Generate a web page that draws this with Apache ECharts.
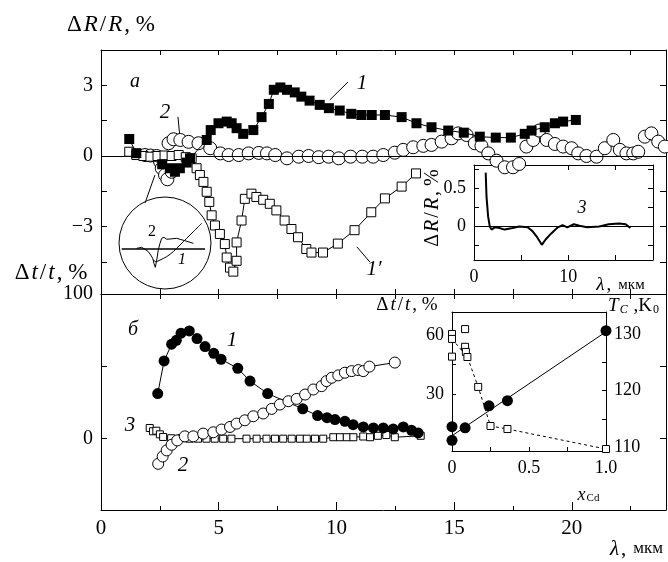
<!DOCTYPE html>
<html>
<head>
<meta charset="utf-8">
<script src="https://cdn.jsdelivr.net/npm/echarts@6/dist/echarts.min.js"></script>
<style>
  html, body { margin: 0; padding: 0; background: #fff; }
  #chart { width: 668px; height: 562px; }
</style>
</head>
<body>
<div id="chart"></div>
<script>
// ---- панель а: ΔR/R, % ----
const sq1 = [[1.2,0.72],[1.5,0.12],[2.6,-0.35],[2.93,-0.52],[3.14,-0.67],[3.35,-0.52],[3.64,-0.28],[3.78,-0.1],[4.49,0.68],[4.66,1.1],[4.99,1.39],[5.34,1.46],[5.55,1.39],[5.76,1.18],[6.04,0.94],[6.47,1.1],[6.82,1.65],[7.13,2.21],[7.34,2.81],[7.62,2.91],[7.9,2.81],[8.23,2.7],[8.51,2.52],[8.86,2.35],[9.29,2.17],[9.68,2.03],[10.14,1.93],[10.63,1.79],[11.06,1.74],[11.5,1.74],[12.06,1.74],[12.77,1.65],[13.4,1.39],[14.04,1.22],[14.75,1.08],[15.41,0.99],[16.09,0.82],[16.77,0.78],[17.41,0.78],[18.0,0.94],[18.29,1.08],[18.85,1.22],[19.28,1.39],[19.63,1.46],[20.17,1.53]]
const circ2 = [[1.87,0.04],[2.1,0.02],[2.36,0.0],[2.51,-0.24],[2.58,-0.52],[2.72,-0.81],[2.82,-0.99],[3.0,-0.67],[2.87,0.54],[3.08,0.71],[3.37,0.68],[3.72,0.6],[4.14,0.54],[4.64,0.33],[5.07,0.11],[5.42,0.04],[5.85,0.04],[6.27,0.11],[6.7,0.13],[7.05,0.11],[7.4,0.04],[7.9,-0.1],[8.4,-0.03],[8.82,0],[9.25,-0.05],[9.67,-0.03],[10.1,-0.1],[10.6,-0.03],[11.1,-0.03],[11.56,-0.03],[11.99,0.04],[12.48,0.14],[12.84,0.26],[13.26,0.37],[13.69,0.43],[14.04,0.47],[14.47,0.61],[14.89,0.75],[15.17,0.96],[15.53,0.89],[15.88,0.54],[16.16,0.43],[16.45,0.11],[16.8,-0.2],[17.15,-0.48],[17.5,-0.48],[17.76,-0.34],[18.07,0.4],[18.36,0.68],[18.61,1.08],[18.93,0.68],[19.28,0.51],[19.63,0.4],[19.99,0.33],[20.27,0.11],[20.62,0],[21.05,-0.03],[21.4,0.33],[21.76,0.68],[22.04,0.26],[22.32,0.11],[22.61,0.11],[22.82,0.18],[23.1,0.82],[23.38,0.96],[23.67,0.61],[23.95,0.4]]
const sq1p = [[1.2,0.18],[1.5,0.04],[1.8,0.0],[2.1,-0.03],[2.4,0.0],[2.7,0.02],[3.0,0.0],[3.3,0.04],[3.6,-0.05],[3.85,-0.1],[4.06,-0.52],[4.2,-0.81],[4.35,-1.1],[4.49,-1.52],[4.6,-1.95],[4.7,-2.52],[4.84,-2.95],[5.05,-3.31],[5.26,-3.74],[5.34,-4.31],[5.48,-4.74],[5.62,-4.91],[5.76,-4.45],[5.76,-3.67],[5.97,-2.74],[6.11,-1.82],[6.39,-1.6],[6.6,-1.74],[6.89,-1.86],[7.17,-2.03],[7.45,-2.31],[7.8,-2.74],[8.09,-3.1],[8.37,-3.45],[8.72,-3.95],[8.94,-4.1],[9.43,-4.1],[10.06,-3.72],[10.77,-3.15],[11.48,-2.39],[12.06,-1.8],[12.77,-1.3],[13.38,-0.74]]
// выноски к подписям кривых (в координатах панели а)
const leaders = [
  [[10.49,3.14],[9.72,2.38]],
  [[3.27,1.66],[3.35,0.81]],
  [[10.87,-3.86],[11.42,-4.5]],
  [[1.87,-2.0],[2.29,-0.81]],
]
const aTicks = [-4.5,-3,-1.5,0,1.5,3]
const aLabels = [-3,0,3]

// ---- вставка: кривая 3 ----
const curve3 = [[1.24,0.7],[1.33,0.38],[1.5,0.12],[1.68,-0.01],[1.86,-0.05],[2.2,-0.02],[2.7,-0.03],[3.25,-0.05],[4.1,-0.03],[4.8,-0.01],[5.7,-0.02],[6.2,-0.07],[6.7,-0.15],[7.2,-0.25],[7.6,-0.18],[8.2,-0.1],[8.9,-0.02],[9.4,0.01],[9.9,-0.02],[10.6,0.02],[11.2,0],[12.0,-0.02],[13.3,-0.01],[14.3,0.02],[15.4,0.03],[16.1,0.02],[16.6,-0.03]]

// ---- круглая врезка (условные единицы 0..100) ----
const zoomBase = [[4.9,46.9],[91.7,46.9]]
const zoom1 = [[37.8,35.4],[40.6,33.7],[44.8,35.4],[51.8,38.9],[58.6,44.1],[65.6,51.0],[72.6,58.0],[79.5,64.9],[88.2,73.6]]
const zoom2 = [[20.5,47.6],[25.7,48.6],[29.2,46.6],[32.6,44.1],[35.1,40.6],[37.2,37.2],[38.5,31.9],[39.9,27.8],[41.4,35.4],[43.0,45.8],[44.8,52.8],[46.5,58.0],[48.9,59.1],[51.8,57.0],[55.2,57.3],[62.2,58.0],[70.8,55.5],[79.5,52.8]]

// ---- панель б: Δt/t, % ----
const dot1 = [[2.41,31.2],[2.68,53.7],[3.0,65.3],[3.2,68],[3.4,72.9],[3.75,74.5],[4.08,69.2],[4.42,63.7],[4.79,59],[5.1,54.9],[5.81,48.6],[6.33,39.8],[7.08,31.2],[8.57,20.6],[9.2,16.0],[9.6,14.5],[9.94,13.2],[10.36,12.0],[10.71,9.7],[11.14,8.1],[11.57,7.4],[11.99,7.4],[12.41,6.7],[12.84,8.1],[13.19,5.8],[13.47,4.0]]
const ring2 = [[2.43,-17.4],[2.62,-12.3],[2.79,-8.1],[3.0,-4.2],[3.24,-1.2],[3.56,1.6],[3.92,1.6],[4.34,3.5],[4.77,4.4],[5.12,6.3],[5.48,8.1],[5.76,10.4],[6.11,12.7],[6.47,15.5],[6.89,17.4],[7.25,20.6],[7.6,23.6],[7.96,25.9],[8.31,27.5],[8.67,30.5],[9.02,34],[9.37,36.3],[9.58,39.8],[9.8,42.1],[10.08,43.75],[10.36,45.6],[10.65,46.7],[10.93,47.4],[11.14,46.7],[11.4,49.8],[12.48,52.6]]
const box3 = [[2.07,7.4],[2.21,5.1],[2.35,5.5],[2.5,3.0],[2.64,1.2],[2.98,0.3],[3.41,0.3],[3.76,0],[4.12,0],[4.48,0],[4.83,0],[5.19,0],[5.54,0],[6.18,0],[6.61,0],[7.03,0],[7.39,0],[7.74,0],[8.1,0],[8.45,0],[8.74,0],[9.09,0],[9.44,0],[9.87,1],[10.15,1],[10.44,1],[10.72,1],[11.14,1.5],[11.43,1],[11.76,2],[12.12,2.5],[12.48,1],[13.58,2]]
const bTicks = [0,50]
const bLabels = [0,100]
const lamTicks = [2.5,5,7.5,10,12.5,15,17.5,20,22.5]
const lamMajor = [5,10,15,20]
const lamLabels = [0,5,10,15,20]

// ---- вставка б: зависимость от x_Cd ----
const xcdSquares = [[0,60.5],[0,58],[0,49],[0.085,63],[0.085,54],[0.09,51.4],[0.1,48.8],[0.17,33.6],[0.25,13.7],[0.36,12.2],[1.0,2]]
const xcdTrend = [[0,58],[0.1,48.8],[0.17,33.6],[0.25,13.7],[0.36,12.2],[1.0,2]]
const tcDots = [[0,113.6],[0,111.2],[0.085,113.4],[0.24,117.3],[0.36,118.2],[1.0,130.6]]
const tcLine = [[0,112],[1.0,130.4]]

const FF = 'Liberation Serif, DejaVu Serif, serif'
const black = '#000'

function ax(extra) {
  return Object.assign({
    type: 'value',
    axisLine: { show: true, onZero: false, lineStyle: { color: black, width: 1 } },
    splitLine: { show: false },
    axisTick: { show: false },
    axisLabel: { show: false },
  }, extra)
}
function ticks(vals, len) {
  return { show: true, inside: true, length: len || 6, customValues: vals, lineStyle: { color: black, width: 1 } }
}
function labels(vals, size, fmt) {
  return {
    show: true, customValues: vals, color: black, fontFamily: FF, fontSize: size, margin: 8,
    formatter: fmt || (v => (v < 0 ? '−' : '') + Math.abs(v)),
  }
}

const lineS = (data, x, y, extra) => Object.assign({
  type: 'line', xAxisIndex: x, yAxisIndex: y, data, symbol: 'none', silent: true,
  lineStyle: { color: black, width: 1 }, z: 3,
}, extra)

const series = [
  // панель а
  {
    type: 'scatter', xAxisIndex: 0, yAxisIndex: 0, data: circ2, symbol: 'circle', symbolSize: 13, silent: true,
    itemStyle: { color: '#fff', borderColor: black, borderWidth: 1, opacity: 1 }, z: 4,
    markLine: { silent: true, symbol: 'none', label: { show: false }, lineStyle: { color: black, width: 1, type: 'solid' }, data: [{ yAxis: 0 }] },
  },
  lineS(sq1p, 0, 0, { symbol: 'rect', symbolSize: 9, itemStyle: { color: '#fff', borderColor: black, borderWidth: 1 }, z: 5 }),
  lineS(sq1, 0, 0, { symbol: 'rect', symbolSize: 10, itemStyle: { color: black }, z: 5 }),
  ...leaders.map(d => lineS(d, 0, 0)),
  // вставка а
  lineS(curve3, 5, 4, { lineStyle: { color: black, width: 2 }, markLine: { silent: true, symbol: 'none', label: { show: false }, lineStyle: { color: black, width: 1, type: 'solid' }, data: [{ yAxis: 0 }] } }),
  // круглая врезка
  lineS(zoomBase, 9, 8, { lineStyle: { color: black, width: 1.5 } }),
  lineS(zoom1, 9, 8, { smooth: 0.3 }),
  lineS(zoom2, 9, 8),
  // панель б
  lineS(box3, 3, 2, { symbol: 'rect', symbolSize: 7, itemStyle: { color: '#fff', borderColor: black, borderWidth: 1 } }),
  lineS(ring2, 3, 2, { symbol: 'circle', symbolSize: 11, itemStyle: { color: '#fff', borderColor: black, borderWidth: 1 } }),
  lineS(dot1, 3, 2, { symbol: 'circle', symbolSize: 11, itemStyle: { color: black } }),
  // вставка б
  lineS(xcdTrend, 7, 6, { lineStyle: { color: black, width: 1, type: [3, 3] } }),
  { type: 'scatter', xAxisIndex: 7, yAxisIndex: 6, data: xcdSquares, symbol: 'rect', symbolSize: 7, silent: true, itemStyle: { color: '#fff', borderColor: black, borderWidth: 1, opacity: 1 }, z: 5 },
  lineS(tcLine, 7, 7),
  { type: 'scatter', xAxisIndex: 7, yAxisIndex: 7, data: tcDots, symbol: 'circle', symbolSize: 11, silent: true, itemStyle: { color: black, opacity: 1 }, z: 5 },
]

const rich = (size) => ({
  n: { fontFamily: FF, fontSize: size, color: black, padding: [0, 1, 0, 1] },
  i: { fontFamily: FF, fontSize: size, fontStyle: 'italic', color: black, padding: [0, 1, 0, 1] },
  s: { fontFamily: FF, fontSize: Math.round(size * 0.62), color: black, verticalAlign: 'bottom', lineHeight: size * 0.9 },
  si: { fontFamily: FF, fontSize: Math.round(size * 0.62), fontStyle: 'italic', color: black, verticalAlign: 'bottom', lineHeight: size * 0.9 },
  m: { fontFamily: FF, fontSize: Math.round(size * 0.8), color: black, padding: [0, 0, 0, 6] },
})
function txt(x, y, text, size, opt) {
  opt = opt || {}
  return {
    type: 'text', x, y, rotation: opt.rot || 0, z: 100, silent: true,
    style: { text, rich: rich(size), align: opt.align || 'center', verticalAlign: 'middle', textAlign: opt.align || 'center', textVerticalAlign: 'middle', fontFamily: FF, fontSize: size },
  }
}

const option = {
  animation: false,
  backgroundColor: '#fff',
  grid: [
    { left: 101, top: 50, width: 565, height: 244 },
    { left: 101, top: 294, width: 565, height: 216 },
    { left: 474, top: 165, width: 179, height: 95 },
    { left: 452, top: 312, width: 154, height: 139 },
    { left: 117, top: 198, width: 96, height: 96 },
  ],
  xAxis: [
    ax({ gridIndex: 0, position: 'bottom', min: 0, max: 24, axisTick: ticks(lamTicks, 5) }),
    ax({ gridIndex: 0, position: 'top', min: 0, max: 24, axisTick: ticks(lamTicks, 5) }),
    ax({ gridIndex: 1, position: 'top', min: 0, max: 24, axisTick: ticks(lamTicks, 5) }),
    ax({ gridIndex: 1, position: 'bottom', min: 0, max: 24, axisTick: ticks(lamMajor, 8), axisLabel: labels(lamLabels, 21) }),
    ax({ gridIndex: 1, position: 'bottom', min: 0, max: 24, axisLine: { show: false, onZero: false }, axisTick: ticks(lamTicks, 4) }),
    ax({ gridIndex: 2, position: 'bottom', min: 0, max: 19, axisTick: ticks([5, 10, 15], 5), axisLabel: labels([0, 10], 18) }),
    ax({ gridIndex: 2, position: 'top', min: 0, max: 19, axisTick: ticks([5, 10, 15], 5) }),
    ax({ gridIndex: 3, position: 'bottom', min: 0, max: 1, axisTick: ticks([0.25, 0.5, 0.75], 4), axisLabel: labels([0, 0.5, 1], 18, v => (v === 1 ? '1.0' : String(v))) }),
    ax({ gridIndex: 3, position: 'top', min: 0, max: 1 }),
    ax({ gridIndex: 4, min: 0, max: 100, show: false }),
  ],
  yAxis: [
    ax({ gridIndex: 0, position: 'left', min: -5.86, max: 4.5, axisTick: ticks(aTicks, 6), axisLabel: labels(aLabels, 20) }),
    ax({ gridIndex: 0, position: 'right', min: -5.86, max: 4.5, axisTick: ticks(aTicks, 6) }),
    ax({ gridIndex: 1, position: 'left', min: -49.3, max: 100, axisTick: ticks(bTicks, 6), axisLabel: labels(bLabels, 20) }),
    ax({ gridIndex: 1, position: 'right', min: -49.3, max: 100, axisTick: ticks(bTicks, 6) }),
    ax({ gridIndex: 2, position: 'left', min: -0.45, max: 0.8, axisTick: ticks([-0.25, 0, 0.25, 0.5, 0.75], 5), axisLabel: labels([0, 0.5], 18) }),
    ax({ gridIndex: 2, position: 'right', min: -0.45, max: 0.8, axisTick: ticks([-0.25, 0, 0.25, 0.5, 0.75], 5) }),
    ax({ gridIndex: 3, position: 'left', min: 1, max: 71.7, axisTick: ticks([15, 30, 45, 60], 4), axisLabel: labels([30, 60], 18) }),
    ax({ gridIndex: 3, position: 'right', min: 109.3, max: 133.9, axisTick: ticks([110, 115, 120, 125, 130], 4), axisLabel: labels([110, 120, 130], 18) }),
    ax({ gridIndex: 4, min: 0, max: 100, show: false }),
  ],
  series,
  graphic: [
    { type: 'circle', shape: { cx: 165, cy: 243, r: 46 }, style: { fill: 'none', stroke: black, lineWidth: 1 }, z: 100, silent: true },
    txt(111, 25, '{n|Δ}{i|R}{n|/}{i|R}{n|, %}', 23),
    txt(51, 273, '{n|Δ}{i|t}{n|/}{i|t}{n|, %}', 23),
    txt(636, 549, '{i|λ}{n|,}{m|мкм}', 21),
    txt(135, 82, '{i|a}', 20),
    txt(362, 83, '{i|1}', 21),
    txt(165, 112, '{i|2}', 21),
    txt(374, 269, '{i|1′}', 21),
    txt(152, 232, '{n|2}', 16),
    txt(182, 260, '{i|1}', 16),
    txt(582, 208, '{i|3}', 18),
    txt(433, 208, '{n|Δ}{i|R}{n|/}{i|R}{n|, %}', 20, { rot: Math.PI / 2 }),
    txt(620, 285, '{i|λ}{n|,}{m|мкм}', 19),
    txt(133, 330, '{i|б}', 20),
    txt(232, 340, '{i|1}', 21),
    txt(130, 425, '{i|3}', 21),
    txt(183, 465, '{i|2}', 21),
    txt(407, 305, '{n|Δ}{i|t}{n|/}{i|t}{n|, %}', 19),
    txt(633, 306, '{i|T}{si|C}{n| ,K}{s|0}', 19),
    txt(588, 495, '{i|x}{s|Cd}', 18),
  ],
}

const chart = echarts.init(document.getElementById('chart'))
chart.setOption(option)
</script>
</body>
</html>
